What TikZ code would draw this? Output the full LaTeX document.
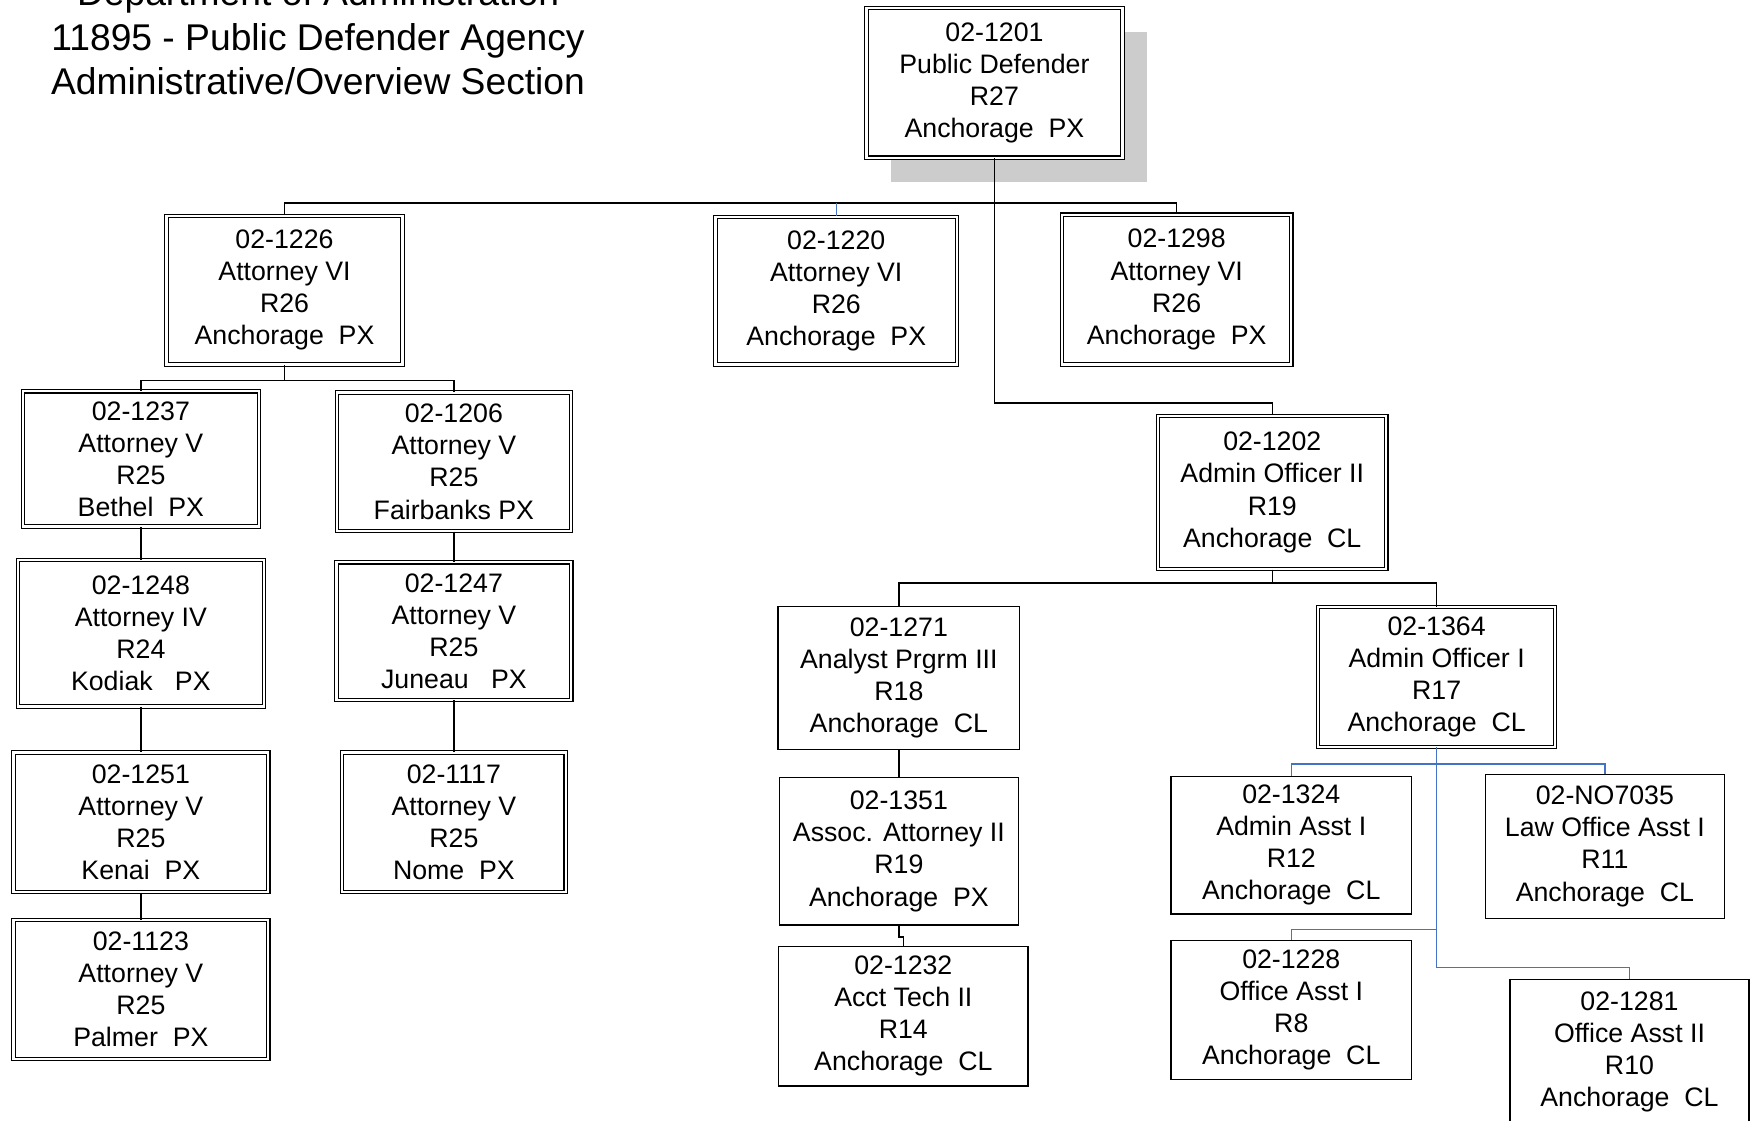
\documentclass[tikz,border=0pt]{standalone}
\usepackage{fontspec}
\setmainfont{Liberation Sans}
\usetikzlibrary{shadows}
\definecolor{linkblue}{RGB}{68,114,196}
\begin{document}
\begin{tikzpicture}[x=1pt,y=-1pt,line width=1.2pt,
	every node/.style={align=center,inner sep=0,font=\fontsize{23.9}{28.7}\selectfont},
	job/.style 2 args={draw,fill=white,line width=1.2pt,minimum width=#1pt,minimum height=#2pt},
	jobdbl/.style 2 args={job={#1}{#2},double,double distance=2pt,line width=1pt}]
\clip (0,0) rectangle (1568,1002);
\node[font=\fontsize{33.3}{40}\selectfont] (title) at (284.5,33)
	{Department of Administration\\11895 - Public Defender Agency\\Administrative/Overview Section};
% head of agency
\node[jobdbl={229}{134},drop shadow={shadow xshift=22pt,shadow yshift=-22pt,fill=black!20,opacity=1}]
	(n1201) at (889.5,74) {02-1201\\Public Defender\\R27\\Anchorage~~PX};
\node[jobdbl={211}{133}] (n1226) at (254.5,259.5) {02-1226\\Attorney VI\\R26\\Anchorage~~PX};
\node[jobdbl={216}{132}] (n1220) at (748,260) {02-1220\\Attorney VI\\R26\\Anchorage~~PX};
\node[jobdbl={205}{134}] (n1298) at (1052.5,259) {02-1298\\Attorney VI\\R26\\Anchorage~~PX};
% field offices
\node[jobdbl={211}{121}] (n1237) at (126,410.5) {02-1237\\Attorney V\\R25\\Bethel~~PX};
\node[jobdbl={220}{131}] (n1248) at (126,566.5) {02-1248\\Attorney IV\\R24\\Kodiak~~~PX};
\node[jobdbl={228}{125}] (n1251) at (126,735.5) {02-1251\\Attorney V\\R25\\Kenai~~PX};
\node[jobdbl={228}{124}] (n1123) at (126,885) {02-1123\\Attorney V\\R25\\Palmer~~PX};
\node[jobdbl={209}{124}] (n1206) at (406,413) {02-1206\\Attorney V\\R25\\Fairbanks PX};
\node[jobdbl={210}{123}] (n1247) at (406,564.5) {02-1247\\Attorney V\\R25\\Juneau~~~PX};
\node[jobdbl={200}{125}] (n1117) at (406,735.5) {02-1117\\Attorney V\\R25\\Nome~~PX};
% administration
\node[jobdbl={204}{137}] (n1202) at (1138,440.5) {02-1202\\Admin Officer II\\R19\\Anchorage~~CL};
\node[job={216}{128}] (n1271) at (804,606.5) {02-1271\\Analyst Prgrm III\\R18\\Anchorage~~CL};
\node[job={214}{132}] (n1351) at (804,761.5) {02-1351\\Assoc. Attorney II\\R19\\Anchorage~~PX};
\node[job={223}{125}] (n1232) at (808,909) {02-1232\\Acct Tech II\\R14\\Anchorage~~CL};
\node[jobdbl={212}{125}] (n1364) at (1285,605.5) {02-1364\\Admin Officer I\\R17\\Anchorage~~CL};
\node[job={215}{123}] (n1324) at (1155,756) {02-1324\\Admin Asst I\\R12\\Anchorage~~CL};
\node[job={214}{129}] (n7035) at (1435.5,757) {02-NO7035\\Law Office Asst I\\R11\\Anchorage~~CL};
\node[job={215}{124}] (n1228) at (1155,903.5) {02-1228\\Office Asst I\\R8\\Anchorage~~CL};
\node[job={214}{130}] (n1281) at (1457.5,941) {02-1281\\Office Asst II\\R10\\Anchorage~~CL};
% connectors
\draw (n1201.south) -- ++(0,40) coordinate (t1);
\draw (n1226.north) |- (t1) -| (n1298.north);
\draw[linkblue,line width=0.8pt] (n1220.north) -- (n1220.north |- t1);
\draw (t1) -- ++(0,179) -| (n1202.north);
\draw (n1226.south) -- ++(0,14) coordinate (t2);
\draw (n1237.north) |- (t2) -| (n1206.north);
\draw (n1237) -- (n1248) (n1248) -- (n1251) (n1251) -- (n1123);
\draw (n1206) -- (n1247) (n1247) -- (n1117);
\draw (n1202.south) -- ++(0,12) coordinate (t3);
\draw (n1271.north) |- (t3) -| (n1364.north);
\draw (n1271) -- (n1351);
\draw (n1351.south) -- ++(0,10) -| (n1232.north);
\draw[linkblue] (n1364.south) -- ++(0,15) coordinate (t4);
\draw[linkblue] (n1324.north) |- (t4) -| (n7035.north);
\draw[linkblue] (t4) -- ++(0,148) -| (n1228.north);
\draw[linkblue] (t4) -- ++(0,182) -| (n1281.north);
\end{tikzpicture}
\end{document}
